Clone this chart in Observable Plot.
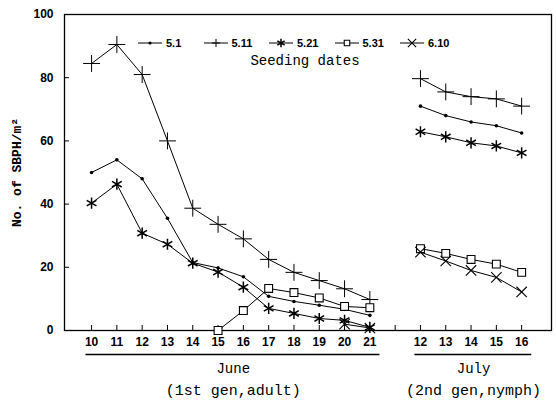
<!DOCTYPE html>
<html><head><meta charset="utf-8">
<script src="https://cdn.jsdelivr.net/npm/d3@7"></script>
<script src="https://cdn.jsdelivr.net/npm/@observablehq/plot@0.6"></script>
<style>
body{margin:0;background:#fff}
#wrap{position:relative;width:556px;height:400px}
#legend{position:absolute;left:138px;top:36px;display:flex;font:bold 11px "Liberation Sans",sans-serif}
.item{width:65.5px;display:flex;align-items:center}
.item svg{margin-right:4px}
#sub{position:absolute;left:200px;width:210px;top:53px;text-align:center;font:14px "Liberation Mono",monospace}
</style></head><body>
<div id="wrap"><div id="chart"></div><div id="legend"></div><div id="sub">Seeding dates</div></div>
<script>
// ---- data ----
const juneDays = [10, 11, 12, 13, 14, 15, 16, 17, 18, 19, 20, 21];
const julyDays = [12, 13, 14, 15, 16];
const months = ["June", "July"];
const generations = ["(1st gen,adult)", "(2nd gen,nymph)"];
const seedingDates = ["5.1", "5.11", "5.21", "5.31", "6.10"];
const yTicks = [0, 20, 40, 60, 80, 100];

const june_5_1  = [50, 54, 48, 35.5, 21.5, 19.8, 17, 10.8, 9.2, 8, 6.7, 4.8];
const july_5_1  = [71, 68, 66, 64.8, 62.5];
const june_5_11 = [84.5, 90.5, 81, 60, 38.7, 33.6, 29, 22.5, 18.4, 15.8, 13.2, 9.8];
const july_5_11 = [79.7, 75.5, 74, 73.3, 71];
const june_5_21 = [40.3, 46.3, 30.8, 27.3, 21.3, 18.5, 13.7, 7, 5.4, 3.8, 3.2, 1];
const july_5_21 = [62.9, 61.3, 59.4, 58.4, 56.2];
const june_5_31 = [null, null, null, null, null, 0, 6.3, 13.3, 12, 10.3, 7.6, 7.2];
const july_5_31 = [25.9, 24.4, 22.5, 21, 18.4];
const june_6_10 = [null, null, null, null, null, null, null, null, null, null, 2, 0.8];
const july_6_10 = [24.8, 22, 19, 16.8, 12.2];

const seriesValues = {
  "5.1":  [june_5_1, july_5_1],
  "5.11": [june_5_11, july_5_11],
  "5.21": [june_5_21, july_5_21],
  "5.31": [june_5_31, july_5_31],
  "6.10": [june_6_10, july_6_10]
};

// x position index: June days first, one empty slot, then July days
const juneIdx = juneDays.map((d, i) => i);
const julyIdx = julyDays.map((d, i) => juneDays.length + 1 + i);
const monthDefs = [
  {name: months[0], gen: generations[0], start: juneIdx[0], end: juneIdx[juneIdx.length - 1]},
  {name: months[1], gen: generations[1], start: julyIdx[0], end: julyIdx[julyIdx.length - 1]}
];
const tickLabel = new Map([...juneIdx.map((x, i) => [x, String(juneDays[i])]), ...julyIdx.map((x, i) => [x, String(julyDays[i])])]);
const allTicks = d3.range(0, julyIdx[julyIdx.length - 1] + 1);

const rows = [];
for (const s of seedingDates) {
  const [jn, jl] = seriesValues[s];
  jn.forEach((v, i) => { if (v != null) rows.push({series: s, group: "June", x: juneIdx[i], y: v}); });
  jl.forEach((v, i) => { if (v != null) rows.push({series: s, group: "July", x: julyIdx[i], y: v}); });
}
const of = s => rows.filter(d => d.series === s);

const sym = {
  "5.1":  {fill: "black", r: 1.8},
  "5.11": {symbol: "plus", r: 5.5, stroke: "black", strokeWidth: 1},
  "5.21": {symbol: "asterisk", r: 5.3, stroke: "black", strokeWidth: 1.5},
  "5.31": {symbol: "square2", r: 5, stroke: "black", fill: "white", strokeWidth: 1.1},
  "6.10": {symbol: "times", r: 4.8, stroke: "black", strokeWidth: 1.1}
};
const legendScale = {"plus": 0.5, "asterisk": 0.75, "square2": 0.7, "times": 0.8};

const chart = Plot.plot({
  width: 556, height: 400,
  marginTop: 14, marginBottom: 70, marginLeft: 64, marginRight: 5,
  style: {fontFamily: "'Liberation Sans', sans-serif", fontSize: "12px", color: "black", background: "white"},
  x: {domain: [-1.07, 18.18]},
  y: {domain: [0, 100]},
  marks: [
    Plot.frame({stroke: "black", strokeWidth: 1.3}),
    Plot.axisY({ticks: yTicks, tickSize: -5, tickPadding: 16, fontWeight: "bold", fontSize: 12,
      label: "No. of SBPH/m²", labelAnchor: "center", labelArrow: "none", labelOffset: 53}),
    Plot.axisX({ticks: allTicks, tickSize: -5, tickPadding: 12, fontWeight: "bold", fontSize: 12,
      tickFormat: i => tickLabel.get(i) ?? "", label: null}),
    Plot.line(rows, {x: "x", y: "y", z: d => d.series + d.group, stroke: "black", strokeWidth: 1}),
    ...seedingDates.map(s => Plot.dot(of(s), {x: "x", y: "y", ...sym[s]})),
    Plot.ruleY(monthDefs, {y: 0, x1: d => d.start - 0.22, x2: d => d.end + 0.4, dy: 24, stroke: "black", strokeWidth: 1.3}),
    Plot.text(monthDefs, {x: d => (d.start + d.end) / 2 + 0.1, y: 0, dy: 38, text: "name", fontFamily: "'Liberation Mono', monospace", fontSize: 14}),
    Plot.text(monthDefs, {x: d => (d.start + d.end) / 2 + 0.1, y: 0, dy: 60, text: "gen", fontFamily: "'Liberation Mono', monospace", fontSize: 15})
  ]
});
chart.querySelectorAll("[aria-label='y-axis label'] text").forEach(t => { t.style.fontFamily = "'Liberation Mono', monospace"; t.style.fontSize = "13px"; });
document.getElementById("chart").append(chart);

// legend
const d3sym = {"plus": d3.symbolPlus, "asterisk": d3.symbolAsterisk, "square2": d3.symbolSquare2, "times": d3.symbolTimes};
const leg = d3.select("#legend");
for (const s of seedingDates) {
  const it = leg.append("div").attr("class", "item");
  const svg = it.append("svg").attr("width", 24).attr("height", 14);
  svg.append("line").attr("x1", 0).attr("x2", 24).attr("y1", 7).attr("y2", 7).attr("stroke", "black");
  const o = sym[s];
  if (!o.symbol) svg.append("circle").attr("cx", 12).attr("cy", 7).attr("r", 1.6).attr("fill", "black");
  else svg.append("path").attr("transform", "translate(12,7)")
    .attr("d", d3.symbol(d3sym[o.symbol], Math.PI * (o.r * legendScale[o.symbol]) ** 2)())
    .attr("fill", o.fill || "none").attr("stroke", "black").attr("stroke-width", o.strokeWidth);
  it.append("span").text(s);
}
</script>
</body></html>
